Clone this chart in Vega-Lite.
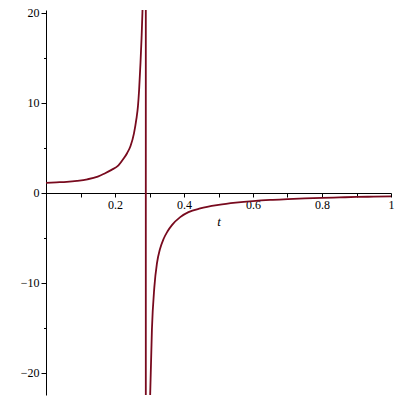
{
  "$schema": "https://vega.github.io/schema/vega-lite/v6.json",
  "width": 345,
  "height": 385,
  "autosize": {"type": "none"},
  "padding": {"left": 46, "top": 10, "right": 9, "bottom": 5},
  "background": "white",
  "config": {"view": {"stroke": null}, "font": "Times New Roman"},
  "data": {"values": [
    {"t": 0, "y": 1.10}, {"t": 0.03, "y": 1.16}, {"t": 0.06, "y": 1.22}, {"t": 0.09, "y": 1.33},
    {"t": 0.12, "y": 1.50}, {"t": 0.15, "y": 1.80}, {"t": 0.17, "y": 2.15}, {"t": 0.19, "y": 2.55},
    {"t": 0.21, "y": 3.05}, {"t": 0.225, "y": 3.8}, {"t": 0.235, "y": 4.4}, {"t": 0.245, "y": 5.2},
    {"t": 0.255, "y": 6.6}, {"t": 0.262, "y": 8.2}, {"t": 0.2665, "y": 9.6}, {"t": 0.27, "y": 11.5},
    {"t": 0.274, "y": 14.5}, {"t": 0.277, "y": 17.2}, {"t": 0.2795, "y": 20.0}, {"t": 0.282, "y": 24},
    {"t": 0.2892, "y": 500}, {"t": 0.2894, "y": -500}, {"t": 0.300, "y": -26}, {"t": 0.302, "y": -22.4},
    {"t": 0.307, "y": -15.2}, {"t": 0.314, "y": -10.5}, {"t": 0.3217, "y": -7.8}, {"t": 0.330, "y": -6.3},
    {"t": 0.341, "y": -5.1}, {"t": 0.352, "y": -4.3}, {"t": 0.365, "y": -3.59}, {"t": 0.389, "y": -2.7},
    {"t": 0.413, "y": -2.15}, {"t": 0.447, "y": -1.74}, {"t": 0.5, "y": -1.35}, {"t": 0.55, "y": -1.1},
    {"t": 0.6, "y": -0.92}, {"t": 0.65, "y": -0.79}, {"t": 0.7, "y": -0.7}, {"t": 0.75, "y": -0.62},
    {"t": 0.8, "y": -0.56}, {"t": 0.85, "y": -0.51}, {"t": 0.9, "y": -0.46}, {"t": 0.95, "y": -0.43},
    {"t": 1.0, "y": -0.40}
  ]},
  "resolve": {"axis": {"x": "independent", "y": "independent"}},
  "layer": [
    {
      "mark": {"type": "line", "clip": true, "color": "#780a1e", "strokeWidth": 1.8, "interpolate": "monotone"},
      "encoding": {
        "x": {"field": "t", "type": "quantitative",
          "scale": {"domain": [0, 1], "nice": false, "zero": false},
          "axis": {"orient": "bottom", "offset": -202, "title": "t", "values": [0.1,0.2,0.3,0.4,0.5,0.6,0.7,0.8,0.9,1.0],
            "labelExpr": "abs(datum.value*10 - round(datum.value*10)) < 0.01 && round(datum.value*10) % 2 == 0 ? (datum.value == 1 ? '1' : format(datum.value, '.1f')) : ''",
            "grid": false, "tickSize": 4, "tickColor": "black", "domainColor": "black", "labelColor": "black",
            "labelFont": "Times New Roman", "labelFontSize": 12, "labelPadding": 2, "labelFlush": false, "labelOverlap": false,
            "titleFont": "Times New Roman", "titleFontStyle": "italic", "titleFontWeight": "normal", "titleFontSize": 13,
            "titleColor": "black", "titleY": 32, "titleBaseline": "alphabetic"}},
        "y": {"field": "y", "type": "quantitative",
          "scale": {"domain": [-22.45, 20.3], "nice": false, "zero": false},
          "axis": {"orient": "left", "title": null, "values": [-20, -10, 0, 10, 20], "grid": false,
            "tickSize": 5, "tickColor": "black", "domainColor": "black", "labelColor": "black",
            "labelFont": "Times New Roman", "labelFontSize": 12, "labelPadding": 2, "labelFlush": false, "labelOverlap": false}}
      }
    },
    {
      "mark": {"type": "line", "clip": true, "opacity": 0},
      "encoding": {
        "x": {"field": "t", "type": "quantitative", "axis": null},
        "y": {"field": "y", "type": "quantitative",
          "axis": {"orient": "left", "title": null, "values": [-15, -5, 5, 15], "grid": false, "labels": false,
            "domain": false, "tickSize": 2.5, "tickColor": "black"}}
      }
    }
  ]
}
